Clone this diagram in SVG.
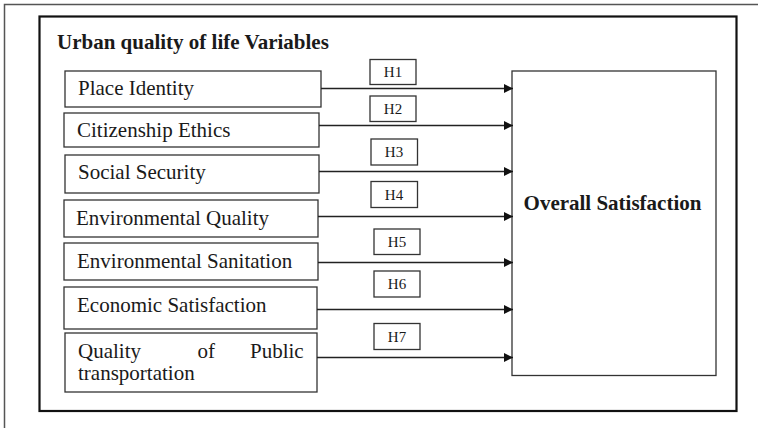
<svg xmlns="http://www.w3.org/2000/svg" width="758" height="428" viewBox="0 0 758 428">
  <style>
    .box { fill: #fff; stroke: #333; stroke-width: 1.3; }
    .lbl { font-family: "Liberation Serif", "Times New Roman", serif; font-size: 21px; fill: #1a1a1a; }
    .bold { font-weight: bold; }
    .hyp { font-family: "Liberation Serif", "Times New Roman", serif; font-size: 15px; fill: #1a1a1a; text-anchor: middle; }
    .edge { stroke: #222; stroke-width: 1.3; fill: none; marker-end: url(#arrow); }
  </style>
  <defs>
    <marker id="arrow" viewBox="0 0 10 10" refX="10" refY="5" markerUnits="userSpaceOnUse" markerWidth="9" markerHeight="9" orient="auto">
      <path d="M0,0 L10,5 L0,10 Z" fill="#111"/>
    </marker>
  </defs>
  <rect width="758" height="428" fill="#fff"/>

  <!-- outer page border (top and left edges) -->
  <path d="M4.5,428 V4.5 H758" fill="none" stroke="#555" stroke-width="1.5"/>

  <!-- framing box around the whole model -->
  <rect x="39.5" y="16.5" width="697" height="394.5" fill="none" stroke="#111" stroke-width="2.2"/>
  <text class="lbl bold" x="57" y="49">Urban quality of life Variables</text>

  <g id="place-identity">
    <rect class="box" x="65" y="71" width="256" height="36"/>
    <text class="lbl" x="78" y="95">Place Identity</text>
  </g>
  <g id="citizenship-ethics">
    <rect class="box" x="64" y="113" width="255" height="34"/>
    <text class="lbl" x="77" y="136.5">Citizenship Ethics</text>
  </g>
  <g id="social-security">
    <rect class="box" x="65" y="155" width="254" height="38"/>
    <text class="lbl" x="78" y="178.5">Social Security</text>
  </g>
  <g id="environmental-quality">
    <rect class="box" x="64" y="200" width="254" height="37"/>
    <text class="lbl" x="76" y="224.5">Environmental Quality</text>
  </g>
  <g id="environmental-sanitation">
    <rect class="box" x="64" y="243" width="254" height="37"/>
    <text class="lbl" x="77" y="268">Environmental Sanitation</text>
  </g>
  <g id="economic-satisfaction">
    <rect class="box" x="64" y="287" width="253" height="42"/>
    <text class="lbl" x="77" y="311.5">Economic Satisfaction</text>
  </g>
  <g id="public-transportation">
    <rect class="box" x="65" y="333" width="252" height="59"/>
    <text class="lbl" y="358"><tspan x="78">Quality</tspan><tspan x="197.5">of</tspan><tspan x="250">Public</tspan></text>
    <text class="lbl" x="78" y="380">transportation</text>
  </g>

  <g id="overall-satisfaction">
    <rect class="box" x="512" y="71" width="204" height="304.5"/>
    <text class="lbl bold" x="612.5" y="209.5" text-anchor="middle">Overall Satisfaction</text>
  </g>

  <g id="connectors">
    <line class="edge" x1="321" y1="88.5" x2="513" y2="88.5"/>
    <line class="edge" x1="319" y1="125.5" x2="513" y2="125.5"/>
    <line class="edge" x1="319" y1="171.5" x2="513" y2="171.5"/>
    <line class="edge" x1="318" y1="216.5" x2="513" y2="216.5"/>
    <line class="edge" x1="318" y1="262.5" x2="513" y2="262.5"/>
    <line class="edge" x1="317" y1="309.5" x2="513" y2="309.5"/>
    <line class="edge" x1="317" y1="357.5" x2="513" y2="357.5"/>
  </g>

  <g id="hypotheses">
    <g id="h1"><rect class="box" x="370" y="59.5" width="46" height="25"/><text class="hyp" x="393" y="77">H1</text></g>
    <g id="h2"><rect class="box" x="370" y="96" width="46" height="25.5"/><text class="hyp" x="393" y="113.5">H2</text></g>
    <g id="h3"><rect class="box" x="371" y="139" width="46.5" height="26"/><text class="hyp" x="394" y="157">H3</text></g>
    <g id="h4"><rect class="box" x="371" y="181.5" width="46.5" height="26"/><text class="hyp" x="394" y="199.5">H4</text></g>
    <g id="h5"><rect class="box" x="374" y="229" width="46" height="25.5"/><text class="hyp" x="397" y="247">H5</text></g>
    <g id="h6"><rect class="box" x="374" y="271" width="46" height="26"/><text class="hyp" x="397" y="289">H6</text></g>
    <g id="h7"><rect class="box" x="374" y="323.5" width="46" height="26"/><text class="hyp" x="397" y="341.5">H7</text></g>
  </g>
</svg>
